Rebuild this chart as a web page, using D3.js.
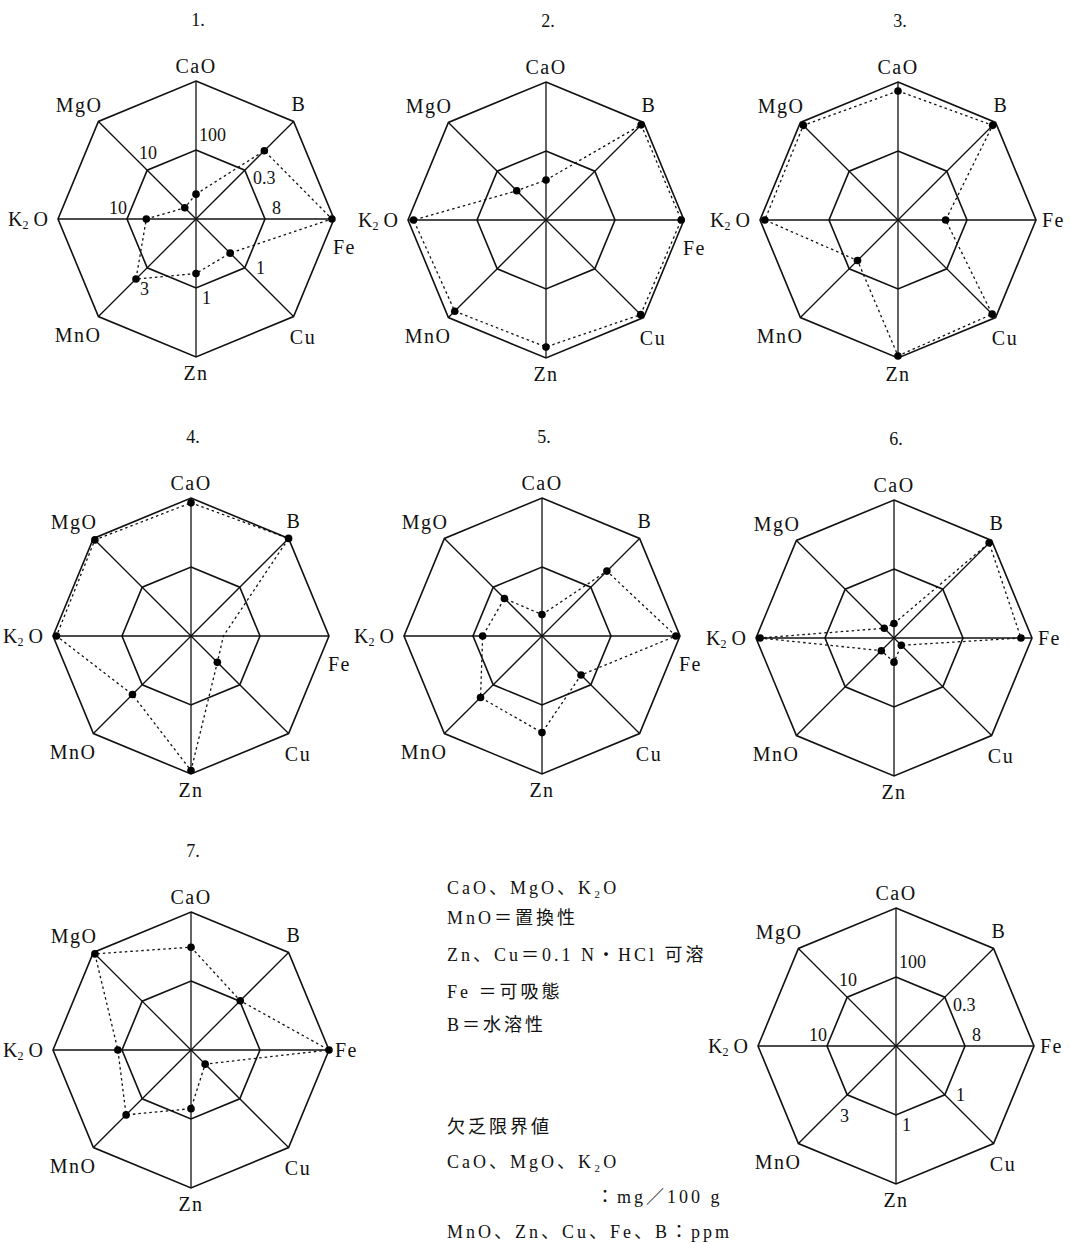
<!DOCTYPE html>
<html>
<head>
<meta charset="utf-8">
<script src="https://cdn.jsdelivr.net/npm/d3@7"></script>
<style>
  html, body { margin: 0; padding: 0; background: #fff; }
  svg { display: block; }
  text { fill: #111; }
</style>
</head>
<body>
<script>
// Axes, clockwise from the top
const axes = ["CaO", "B", "Fe", "Cu", "Zn", "MnO", "K2O", "MgO"];
// Deficiency threshold for each axis (inner octagon)
const thresholds = ["100", "0.3", "8", "1", "1", "3", "10", "10"];

// Soil values, expressed as multiples of the deficiency threshold (outer octagon = 2)
const soil1 = [0.36, 1.40, 1.97, 0.70, 0.79, 1.23, 0.72, 0.23];
const soil2 = [0.58, 1.95, 1.96, 1.94, 1.84, 1.87, 1.92, 0.60];
const soil3 = [1.87, 1.94, 0.69, 1.93, 1.97, 0.83, 1.93, 1.94];
const soil4 = [1.93, 2.00, 0.47, 0.54, 1.95, 1.20, 1.95, 1.97];
const soil5 = [0.31, 1.33, 1.94, 0.80, 1.40, 1.26, 0.86, 0.77];
const soil6 = [0.21, 1.95, 1.84, 0.15, 0.35, 0.26, 1.94, 0.20];
const soil7 = [1.49, 1.01, 2.00, 0.29, 0.85, 1.33, 1.06, 1.97];

const panelTitles = ["1.", "2.", "3.", "4.", "5.", "6.", "7."];
const panelSeries = [soil1, soil2, soil3, soil4, soil5, soil6, soil7];
// points plotted on the line but not marked with a dot
const unmarkedPoints = [{ panel: 3, axis: "Fe" }];

// Legend text
const methodLines = [
  "CaO、MgO、K₂O",
  "MnO＝置換性",
  "Zn、Cu＝0.1 N・HCl 可溶",
  "Fe ＝可吸態",
  "B＝水溶性"
];
const limitLines = [
  "欠乏限界値",
  "CaO、MgO、K₂O",
  "：mg／100 g",
  "MnO、Zn、Cu、Fe、B：ppm"
];

// ---------------------------------------------------------------
const W = 1071, H = 1243;
const R = 138;
const serif = "'Liberation Serif', 'DejaVu Serif', 'Noto Sans CJK JP', serif";
const mixed = "'Liberation Serif', 'Noto Sans CJK JP', serif";

const svg = d3.select("body").append("svg")
  .attr("width", W).attr("height", H)
  .attr("viewBox", `0 0 ${W} ${H}`);

const r = d3.scaleLinear().domain([0, 2]).range([0, R]);
const angle = d3.scaleLinear().domain([0, axes.length]).range([0, 2 * Math.PI]);

const ringLine = d3.lineRadial()
  .angle((d, i) => angle(i))
  .radius(d => r(d))
  .curve(d3.curveLinearClosed);

function xy(i, v) {
  const a = angle(i) - Math.PI / 2;
  return [r(v) * Math.cos(a), r(v) * Math.sin(a)];
}

// Layout of the panels: centres, and whether the Fe label sits below its vertex
const panels = [
  { cx: 196, cy: 219, feBelow: true },
  { cx: 546, cy: 220, feBelow: true },
  { cx: 898, cy: 220, feBelow: false },
  { cx: 191, cy: 636, feBelow: true },
  { cx: 542, cy: 636, feBelow: true },
  { cx: 894, cy: 638, feBelow: false },
  { cx: 191, cy: 1050, feBelow: false },
  { cx: 896, cy: 1046, feBelow: false }  // key diagram
];

// Axis label placement relative to the centre
function labelSpec(name, feBelow) {
  switch (name) {
    case "CaO": return { x: 0, y: -146, anchor: "middle" };
    case "B":   return { x: 103, y: -108, anchor: "middle" };
    case "Fe":  return feBelow ? { x: 137, y: 35, anchor: "start" }
                               : { x: 144, y: 7, anchor: "start" };
    case "Cu":  return { x: 107, y: 125, anchor: "middle" };
    case "Zn":  return { x: 0, y: 161, anchor: "middle" };
    case "MnO": return { x: -118, y: 123, anchor: "middle" };
    case "K2O": return { x: -148, y: 7, anchor: "end" };
    case "MgO": return { x: -117, y: -107, anchor: "middle" };
  }
}

// Threshold labels on the inner octagon
const thresholdPos = [
  { x: 3, y: -78 },    // CaO
  { x: 57, y: -35 },   // B
  { x: 76, y: -5 },    // Fe
  { x: 60, y: 55 },    // Cu
  { x: 6, y: 85 },     // Zn
  { x: -56, y: 76 },   // MnO
  { x: -87, y: -5 },   // K2O
  { x: -57, y: -60 }   // MgO
];

function drawLabel(g, name, spec) {
  const t = g.append("text")
    .attr("x", spec.x).attr("y", spec.y)
    .attr("text-anchor", spec.anchor)
    .attr("font-family", serif)
    .attr("font-size", 20)
    .attr("letter-spacing", name === "K2O" ? 0 : 1.5);
  if (name === "K2O") {
    t.append("tspan").text("K");
    t.append("tspan").attr("font-size", 12).attr("dy", 3).text("2");
    t.append("tspan").attr("dy", -3).text(" O");
  } else {
    t.text(name);
  }
}

function drawFrame(g, feBelow) {
  // spokes
  g.selectAll("line.spoke").data(axes).join("line")
    .attr("class", "spoke")
    .attr("x1", 0).attr("y1", 0)
    .attr("x2", (d, i) => xy(i, 2)[0])
    .attr("y2", (d, i) => xy(i, 2)[1])
    .attr("stroke", "#111").attr("stroke-width", 1.3);
  // outer octagon and threshold octagon
  [2, 1].forEach(level => {
    g.append("path")
      .attr("d", ringLine(axes.map(() => level)))
      .attr("fill", "none")
      .attr("stroke", "#111")
      .attr("stroke-width", 1.6)
      .attr("stroke-linejoin", "miter");
  });
  axes.forEach(name => drawLabel(g, name, labelSpec(name, feBelow)));
}

panels.forEach((p, k) => {
  const g = svg.append("g").attr("transform", `translate(${p.cx},${p.cy})`);
  drawFrame(g, p.feBelow);

  if (k < panelSeries.length) {
    const values = panelSeries[k];
    svg.append("text")
      .attr("x", p.cx + 2).attr("y", p.cy - 193)
      .attr("text-anchor", "middle")
      .attr("font-family", serif)
      .attr("font-size", 18)
      .text(panelTitles[k]);

    g.append("path")
      .attr("d", ringLine(values))
      .attr("fill", "none")
      .attr("stroke", "#111")
      .attr("stroke-width", 1.3)
      .attr("stroke-dasharray", "2.5,3");

    const marked = values
      .map((v, i) => ({ v, i }))
      .filter(d => !unmarkedPoints.some(u => u.panel === k && u.axis === axes[d.i]));
    g.selectAll("circle.pt").data(marked).join("circle")
      .attr("class", "pt")
      .attr("cx", d => xy(d.i, d.v)[0])
      .attr("cy", d => xy(d.i, d.v)[1])
      .attr("r", 3.8)
      .attr("fill", "#000");
  }

  // threshold values: first panel and the key diagram
  if (k === 0 || k === panels.length - 1) {
    g.selectAll("text.th").data(thresholds).join("text")
      .attr("class", "th")
      .attr("x", (d, i) => thresholdPos[i].x)
      .attr("y", (d, i) => thresholdPos[i].y)
      .attr("font-family", serif)
      .attr("font-size", 18)
      .text(d => d);
  }
});

// Legend text block
const legendX = 447;
const methodY = [894, 924, 961, 998, 1031];
const legendText = (x, y, s) => svg.append("text")
  .attr("x", x).attr("y", y)
  .attr("font-family", mixed)
  .attr("font-size", 18)
  .attr("letter-spacing", 3)
  .text(s);
methodLines.forEach((s, i) => legendText(legendX, methodY[i], s));
const limitY = [1133, 1168, 1203, 1238];
limitLines.forEach((s, i) => legendText(i === 2 ? 596 : legendX, limitY[i], s));
</script>
</body>
</html>
